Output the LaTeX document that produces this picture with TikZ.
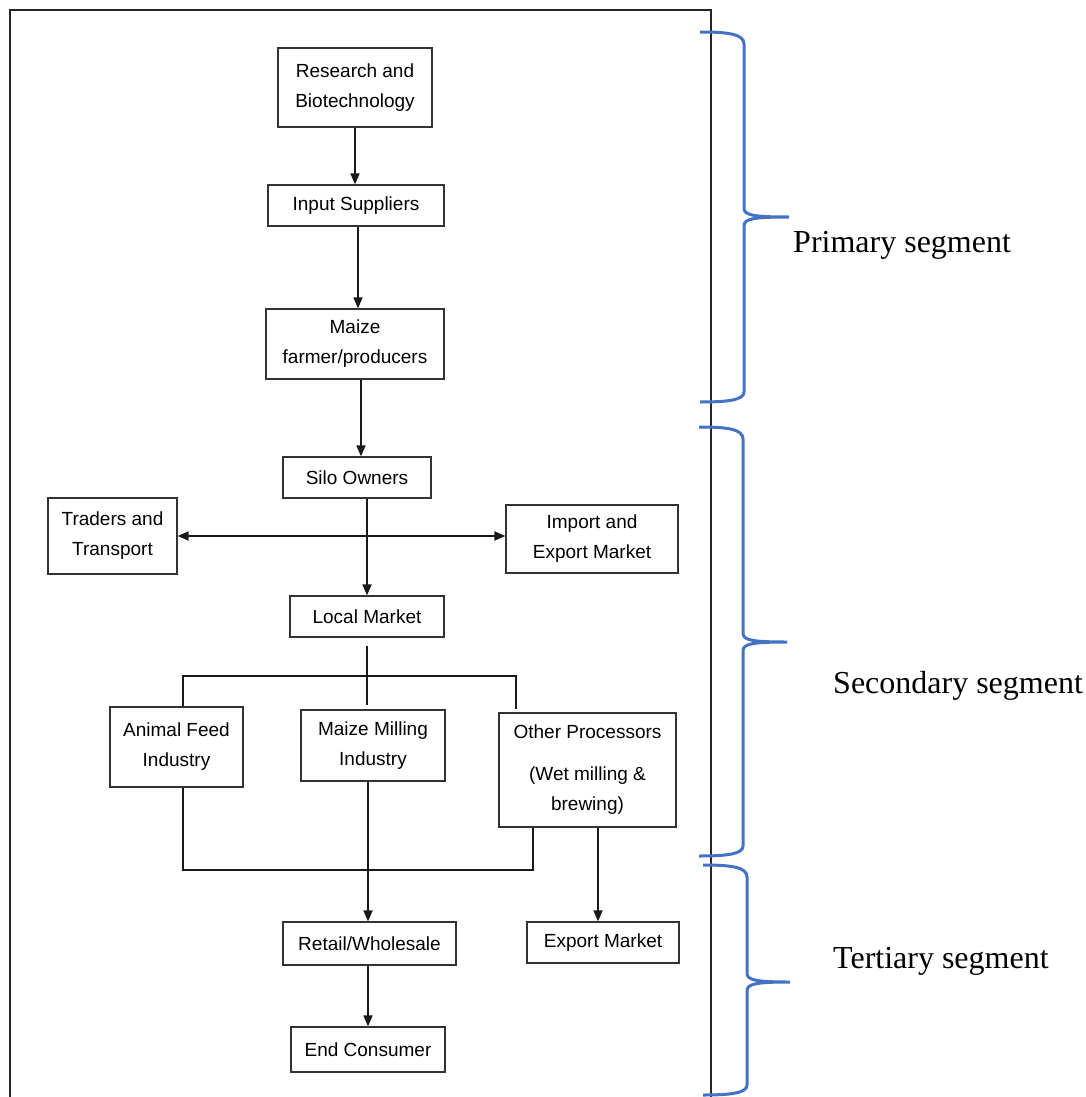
\documentclass[tikz,border=0pt]{standalone}
\usepackage{fontspec}
\setmainfont{Liberation Serif}
\setsansfont{Liberation Sans}
\usepackage{xcolor}
\usepackage{tikz}
\usetikzlibrary{positioning, arrows.meta, calc}
\definecolor{bracecol}{HTML}{4472C4}

\begin{document}
\begin{tikzpicture}[
    x=1pt, y=-1pt,
    box/.style={rectangle, draw=black!80, line width=1.2pt, align=center, inner sep=0pt,
        font=\sffamily\fontsize{19}{30}\selectfont},
    link/.style={line width=1.7pt, black!90},
    segbrace/.style={draw=bracecol, line width=3pt},
    seglabel/.style={anchor=base west, inner sep=0pt, font=\fontsize{32}{38}\selectfont},
    >={Triangle[length=11pt,width=9pt]}
]
\useasboundingbox (0,0) rectangle (1085,1097);

% frame
\draw[line width=2.4pt, black!85] (10,1097) -- (10,10) -- (711,10) -- (711,1097);

% primary
\node[box, minimum width=154pt, minimum height=79pt] (research) at (355,87.5) {Research and\\Biotechnology};
\node[box, minimum width=176pt, minimum height=41pt] (input) at (356,205.5) {Input Suppliers};
\node[box, minimum width=178pt, minimum height=70pt] (maize) at (355,344) {Maize\\farmer/producers};

% secondary
\node[box, minimum width=148pt, minimum height=41pt] (silo) at (357,477.5) {Silo Owners};
\node[box, minimum width=129pt, minimum height=76pt] (traders) at (112.5,536) {Traders and\\Transport};
\node[box, minimum width=172pt, minimum height=68pt] (import) at (592,539) {Import and\\Export Market};
\node[box, minimum width=154pt, minimum height=41pt] (local) at (367,616.5) {Local Market};
\node[box, minimum width=133pt, minimum height=80pt] (animal) at (176.5,747) {Animal Feed\\Industry};
\node[box, minimum width=144pt, minimum height=71pt] (milling) at (373,745.5) {Maize Milling\\Industry};
\node[box, minimum width=177pt, minimum height=114pt] (other) at (587.5,770) {Other Processors\\[12pt](Wet milling \&\\brewing)};

% tertiary
\node[box, minimum width=173pt, minimum height=43pt] (retail) at (369.5,943.5) {Retail/Wholesale};
\node[box, minimum width=152pt, minimum height=41pt] (export) at (603,942.5) {Export Market};
\node[box, minimum width=154pt, minimum height=45pt] (consumer) at (368,1049.5) {End Consumer};

% flows
\draw[link, ->] (research.south) -- (research.south |- input.north);
\draw[link, ->] ([xshift=2pt]input.south) -- ([xshift=2pt]input.south |- maize.north);
\draw[link, ->] ([xshift=6pt]maize.south) -- ([xshift=6pt]maize.south |- silo.north);
\draw[link, ->] (local.north |- silo.south) -- (local.north);
\draw[link, <->] (traders.east) -- (traders.east -| import.west);

\coordinate (split) at (367,676);
\coordinate (fanL) at (183,676);
\coordinate (fanR) at (516,676);
\draw[link] ([yshift=-8pt]local.south -| split) -- (split);
\draw[link] (animal.north -| fanL) -- (fanL) -- (fanR) -- ([yshift=3pt]other.north -| fanR);
\draw[link] (split) -- ([yshift=4pt]milling.north -| split);

\coordinate (joinL) at (183,870);
\coordinate (joinR) at (533,870);
\draw[link] (animal.south -| joinL) -- (joinL) -- (joinR) -- (other.south -| joinR);
\draw[link, ->] (milling.south -| 368,0) -- (retail.north -| 368,0);
\draw[link, ->] (other.south -| 598,0) -- (export.north -| 598,0);
\draw[link, ->] (retail.south -| consumer.north) -- (consumer.north);

% segment braces
\draw[segbrace] (700,32) .. controls (728,32) and (744,34) .. (744,44) -- (744,208)
    .. controls (744,215) and (752,217) .. (789,217)
    .. controls (752,217) and (744,219) .. (744,226) -- (744,392)
    .. controls (744,400) and (728,402) .. (700,402);
\draw[segbrace] (699,427) .. controls (727,427) and (743,429) .. (743,439) -- (743,633)
    .. controls (743,640) and (751,642) .. (787,642)
    .. controls (751,642) and (743,644) .. (743,651) -- (743,846)
    .. controls (743,854) and (727,856) .. (699,856);
\draw[segbrace] (703,865) .. controls (731,865) and (747,867) .. (747,877) -- (747,973)
    .. controls (747,980) and (755,982) .. (790,982)
    .. controls (755,982) and (747,984) .. (747,991) -- (747,1085)
    .. controls (747,1093) and (731,1095) .. (703,1095);

\node[seglabel] (primlbl) at (793,252) {Primary segment};
\node[seglabel] (seclbl) at (833,693) {Secondary segment};
\node[seglabel] (terlbl) at (833,968) {Tertiary segment};

\end{tikzpicture}
\end{document}
